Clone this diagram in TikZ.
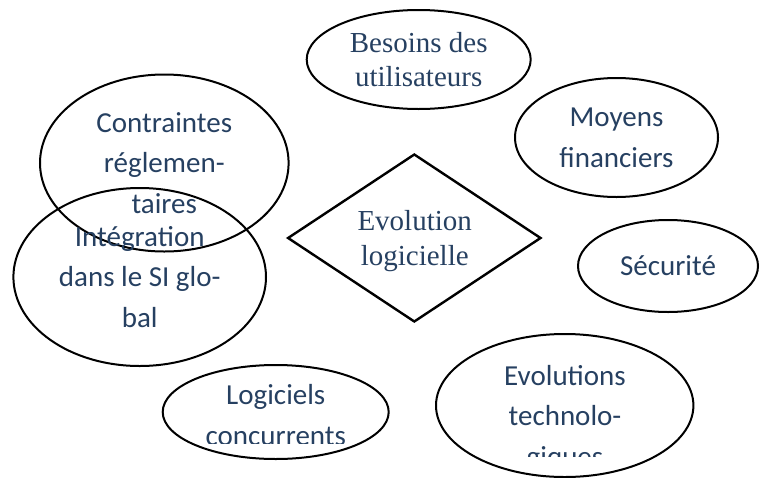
\documentclass[tikz,border=0pt]{standalone}
\usepackage{fontspec}
\setmainfont{Liberation Serif}
\newfontfamily\calibri{Carlito}
\usetikzlibrary{shapes.geometric}
\definecolor{inkblue}{RGB}{38,64,97}

\begin{document}
\begin{tikzpicture}[x=0.5pt, y=-0.5pt]
  \tikzset{
    factor/.style={ellipse, draw=black, line width=1pt, inner sep=0pt, text=inkblue, align=center},
    sansfactor/.style={factor, font=\calibri\fontsize{14.5}{20.4}\selectfont},
    seriffactor/.style={factor, font=\fontsize{14.5}{17.3}\selectfont},
    core/.style={diamond, draw=black, line width=1.2pt, aspect=1.5, inner sep=0pt, minimum width=126.7pt, minimum height=84pt},
    caption/.style={text=inkblue, align=center, inner sep=0pt, anchor=base, font=\calibri\fontsize{14.5}{20.4}\selectfont}
  }
  \useasboundingbox (0,0) rectangle (760,477);

  % central theme
  \node[core] (evolution) at (414.3,238) {};
  \node[caption, font=\fontsize{14.5}{17.5}\selectfont] (evolution-txt) at (414.7,265) {Evolution\\logicielle};

  % factors around it
  \node[seriffactor, minimum width=112pt, minimum height=49.5pt] (besoins) at (418.7,59.5) {Besoins des\\utilisateurs};
  \node[sansfactor, minimum width=101.5pt, minimum height=59.5pt] (moyens) at (616.5,137.5) {Moyens\\financiers};
  \node[sansfactor, minimum width=90pt, minimum height=46pt] (securite) at (668,266) {Sécurité};
  \node[sansfactor, minimum width=124.3pt, minimum height=88.5pt] (contraintes) at (164.3,163) {Contraintes\\réglemen-\\taires};
  \node[sansfactor, minimum width=126.3pt, minimum height=89pt] (integration) at (139.7,277) {Intégration\\dans le SI glo-\\bal};

  % these two have their last line cut by the text box
  \node[factor, minimum width=113pt, minimum height=47pt] (logiciels) at (275.7,412) {};
  \node[factor, minimum width=128.7pt, minimum height=71.5pt] (technos) at (564.7,405.5) {};
  \begin{scope}
    \clip (163,370) rectangle (388,443.3);
    \node[caption] (logiciels-txt) at (275.8,445.7) {Logiciels\\concurrents};
  \end{scope}
  \begin{scope}
    \clip (437,340) rectangle (693,456.7);
    \node[caption] (technos-txt) at (565,466.7) {Evolutions\\technolo-\\giques};
  \end{scope}
\end{tikzpicture}
\end{document}
